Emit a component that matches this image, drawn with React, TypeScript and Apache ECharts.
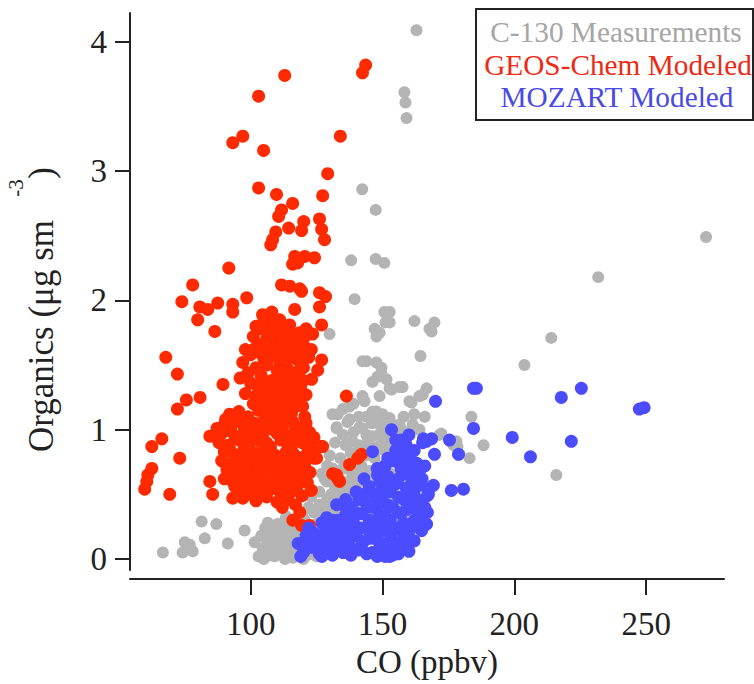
import React, { useEffect, useRef } from "react";
import * as echarts from "echarts";

const FONT = "'Liberation Serif', 'Times New Roman', serif";

const xTicks = [100, 150, 200, 250];
const yTicks = [0, 1, 2, 3, 4];

const seriesNames = ["C-130 Measurements", "GEOS-Chem Modeled", "MOZART Modeled"];

const measured: number[][] = [
  [162.9, 4.09], [158.3, 3.61], [158.7, 3.53], [159.1, 3.41], [272.7, 2.49], [231.8, 2.18],
  [142.3, 2.86], [147.4, 2.70], [138.1, 2.31], [147.4, 2.32], [150.7, 2.29], [150.7, 1.91],
  [151.1, 1.83], [148.9, 1.75], [162.1, 1.84], [167.8, 1.78], [169.7, 1.83], [214.0, 1.71],
  [139.4, 2.01], [129.9, 1.74], [147.0, 1.78], [147.7, 1.72], [143.9, 1.53], [147.7, 1.52],
  [149.6, 1.48], [148.1, 1.41], [151.5, 1.39], [142.4, 1.26], [148.9, 1.26], [137.5, 1.18],
  [133.0, 1.12], [137.5, 1.08], [146.2, 1.14], [144.0, 1.10], [132.6, 1.02], [141.3, 1.02],
  [107.2, 1.53], [106.0, 1.23], [101.5, 1.40],
  [152.7, 1.91], [152.7, 1.83], [168.6, 1.76], [164.4, 1.57], [153.4, 1.31], [157.6, 1.33],
  [165.2, 1.27], [166.7, 1.32], [164.0, 1.26], [161.0, 1.21], [183.7, 1.10], [156.4, 1.04],
  [161.4, 1.04], [152.7, 1.09],
  [203.8, 1.50], [215.9, 0.65], [188.3, 0.88], [183.0, 0.78], [171.6, 0.96], [178.0, 0.91],
  [179.2, 0.81], [149.6, 1.43], [152.7, 1.32], [156.4, 1.33], [160.2, 1.22], [148.9, 1.04],
  [152.7, 1.05], [156.4, 1.02], [147.7, 1.14], [150.4, 0.91], [172.3, 0.97], [168.6, 0.93],
  [176.9, 0.88], [157.2, 1.00], [157.6, 0.92], [152.7, 0.94], [178.4, 0.87],
  [66.7, 0.05], [75.0, 0.13], [74.2, 0.05], [78.0, 0.06], [76.9, 0.11], [81.4, 0.29],
  [87.0, 0.27], [82.6, 0.16], [91.3, 0.12], [97.7, 0.22], [101.5, 0.13],
  [131.0, 1.12], [136.7, 1.06], [132.6, 1.01], [138.6, 0.91], [142.4, 1.01], [143.9, 0.96],
  [131.0, 0.70], [134.8, 0.60], [128.8, 0.60], [131.0, 0.50], [126.1, 0.42], [137.5, 0.47],
  [142.4, 1.53], [146.2, 1.37], [143.2, 1.22], [147.7, 1.08],
  [104.5, 0.08], [106, 0.15], [107.5, 0.03], [108, 0.22], [109.5, 0.10], [110, 0.27],
  [111, 0.04], [112, 0.17], [113, 0.30], [114, 0.08], [115, 0.20], [116, 0.01],
  [116.5, 0.12], [117.5, 0.25], [118, 0.06], [119, 0.16], [120, 0.00], [120.5, 0.30],
  [121, 0.10], [122, 0.20], [123, 0.04], [124, 0.14], [125, 0.27], [126, 0.08],
  [127, 0.35], [128, 0.18], [129, 0.46], [130, 0.28], [131, 0.38], [132, 0.55],
  [133, 0.33], [134, 0.48], [135, 0.70], [136, 0.42], [137, 0.58], [138, 0.82],
  [139, 0.52], [140, 0.65], [141, 0.88], [142, 0.72], [143, 0.60], [144, 0.85],
  [145, 0.68], [146, 0.95], [147, 0.78], [148, 0.62], [149, 0.88], [150, 0.72],
  [151, 0.98], [152, 0.82], [153, 0.66], [154, 0.90], [155, 0.75], [156, 0.85],
  [124, 0.36], [126, 0.52], [128, 0.62], [130, 0.80], [132, 0.90], [134, 0.78],
  [136, 0.88], [139, 0.98], [141, 1.10], [135, 0.96], [129, 0.72], [127, 0.66],
  [122, 0.40], [123, 0.48], [103, 0.02], [105.5, 0.24], [113.5, 0.33], [119.5, 0.34],
  [104, 0.18], [105, 0.00], [106.5, 0.28], [107, 0.10], [108.5, 0.16], [109, 0.02],
  [110.5, 0.20], [111.5, 0.11], [112.5, 0.25], [113, 0.00], [114.5, 0.15], [115.5, 0.27],
  [117, 0.05], [118.5, 0.20], [119.5, 0.10], [121.5, 0.03], [122.5, 0.14], [123.5, 0.26],
  [125, 0.02], [126.5, 0.20], [127.5, 0.10], [128.5, 0.28], [129.5, 0.38], [130.5, 0.50],
  [132.5, 0.42], [133.5, 0.62], [135.5, 0.55], [136.5, 0.70], [138.5, 0.64], [139.5, 0.78],
  [140.5, 0.58], [141.5, 0.70], [143.5, 0.80], [144.5, 0.92], [146.5, 0.86], [148.5, 0.96],
  [150.5, 0.84], [152.5, 0.96], [154.5, 0.82], [146, 1.05], [150, 1.12], [158, 1.10],
  [162, 1.12], [166, 1.10], [160, 0.98], [164, 1.00], [139, 1.20], [135, 1.16],
];

const geosChem: number[][] = [
  [143.6, 3.82], [142.4, 3.76], [112.9, 3.74], [103.0, 3.58], [93.2, 3.22], [97.0, 3.27],
  [104.9, 3.16], [134.0, 3.27], [129.2, 2.98], [103.0, 2.87], [109.8, 2.82], [127.3, 2.81],
  [115.9, 2.75], [111.7, 2.70], [110.6, 2.65], [126.1, 2.63], [126.9, 2.55], [128.0, 2.47],
  [120.1, 2.61], [119.3, 2.54], [114.4, 2.56], [109.5, 2.53], [108.3, 2.47], [107.6, 2.43],
  [116.7, 2.34], [117.8, 2.29], [115.9, 2.28], [120.5, 2.34], [124.2, 2.33], [91.7, 2.25],
  [78.0, 2.12], [111.7, 2.12], [114.8, 2.11], [118.6, 2.09], [119.3, 2.07], [126.1, 2.06],
  [128.4, 2.03], [73.9, 1.99], [80.7, 1.95], [83.7, 1.93], [87.5, 1.98], [79.9, 1.85],
  [93.2, 1.97], [93.2, 1.91], [98.5, 2.02], [86.4, 1.76], [116.7, 1.93], [126.1, 1.95],
  [126.9, 1.81], [104.5, 1.89], [108.0, 1.91], [106.1, 1.81], [111.0, 1.85], [108.3, 1.75],
  [114.8, 1.81], [118.6, 1.75], [123.5, 1.74],
  [67.8, 1.56], [72.2, 1.43], [89.5, 1.35], [75.6, 1.23], [80.8, 1.25], [72.2, 1.16],
  [97.0, 1.08], [87.2, 1.01],
  [66.3, 0.93], [62.5, 0.87], [73.1, 0.78], [62.5, 0.70], [61.0, 0.65], [60.6, 0.60],
  [59.8, 0.54], [69.3, 0.50], [84.5, 0.95], [87.5, 0.93], [84.5, 0.60], [85.6, 0.50],
  [93.2, 0.47], [118.6, 0.36], [119.3, 0.26], [122.3, 0.26], [136.3, 1.26], [126.9, 0.87],
  [133.0, 0.62], [131.1, 0.66], [137.5, 0.73], [140.6, 0.78], [142.0, 0.81],
  [126.9, 1.54], [125.4, 1.46], [123.1, 1.39], [119.7, 1.18], [120.5, 1.10], [122.3, 0.98],
  [127.3, 0.87], [125.0, 0.78], [132.6, 0.65], [133.7, 0.60], [116.0, 0.30],
  [101, 1.72], [103, 1.66], [104, 1.78], [106, 1.70], [107, 1.62], [108, 1.69],
  [109, 1.58], [110, 1.77], [111, 1.64], [112, 1.71], [113, 1.60], [114, 1.68],
  [115, 1.75], [116, 1.62], [117, 1.55], [118, 1.66], [119, 1.58], [120, 1.70],
  [121, 1.63], [122, 1.56], [105, 1.55], [102, 1.48], [104, 1.42], [106, 1.50],
  [108, 1.38], [110, 1.46], [111, 1.52], [112, 1.40], [113, 1.33], [114, 1.47],
  [115, 1.36], [116, 1.44], [117, 1.30], [118, 1.41], [119, 1.34], [120, 1.48],
  [121, 1.27], [103, 1.30], [105, 1.24], [107, 1.33], [109, 1.22], [111, 1.28],
  [113, 1.20], [115, 1.25], [117, 1.18], [100, 1.36], [98, 1.28], [99, 1.44],
  [101, 1.20], [97, 1.52], [98, 1.62], [100, 1.58], [96, 1.40],
  [102, 1.80], [105, 1.86], [109, 1.84], [113, 1.78], [117, 1.72], [121, 1.78],
  [103, 1.60], [107, 1.56], [111, 1.60], [115, 1.56], [119, 1.50], [123, 1.62],
  [104, 1.36], [108, 1.30], [112, 1.34], [116, 1.30], [120, 1.38], [106, 1.18],
  [110, 1.16], [114, 1.14], [118, 1.24], [102, 1.26], [101, 1.62],
  [92, 1.12], [95.5, 1.14], [99, 1.10], [103, 1.15], [107.5, 1.12], [111, 1.09], [115.5, 1.13],
  [90, 1.04], [94, 1.06], [97.5, 1.02], [101.5, 1.05], [105, 1.07], [109.5, 1.03], [113.5, 1.06],
  [117.5, 1.02], [121, 1.05],
  [89, 0.97], [92.5, 0.99], [96.5, 0.95], [100.5, 0.98], [104.5, 0.96], [108.5, 1.00],
  [112.5, 0.95], [116.5, 0.98], [120.5, 0.94],
  [88, 0.90], [91.5, 0.88], [95.5, 0.92], [99.5, 0.89], [103.5, 0.91], [107.5, 0.87],
  [111.5, 0.92], [115.5, 0.88], [119.5, 0.90], [123.5, 0.86],
  [90, 0.83], [93.5, 0.81], [97.5, 0.85], [101.5, 0.82], [105.5, 0.84], [109.5, 0.80],
  [113.5, 0.83], [117.5, 0.79], [121.5, 0.82],
  [89, 0.76], [92.5, 0.74], [96.5, 0.78], [100.5, 0.75], [104.5, 0.73], [108.5, 0.77],
  [112.5, 0.74], [116.5, 0.76], [120.5, 0.72],
  [91, 0.69], [94.5, 0.67], [98.5, 0.70], [102.5, 0.66], [106.5, 0.69], [110.5, 0.65],
  [114.5, 0.68], [118.5, 0.64], [122.5, 0.67],
  [90, 0.62], [93.5, 0.59], [97.5, 0.61], [101.5, 0.58], [105.5, 0.62], [109.5, 0.57],
  [113.5, 0.60], [117.5, 0.56], [121.5, 0.59],
  [95.5, 0.53], [99.5, 0.55], [103.5, 0.51], [107.5, 0.54], [111.5, 0.50], [115.5, 0.52],
  [119.5, 0.49], [123, 0.53],
  [97, 0.47], [102, 0.45], [106, 0.48], [110, 0.44], [114, 0.46], [112, 0.40], [117, 0.42],
  [90.5, 1.08], [94, 0.95], [98, 0.92], [102, 0.94], [106, 0.90], [110, 0.97],
  [114, 0.90], [118, 0.92], [122, 0.90], [92, 0.85], [96, 0.81], [100, 0.79],
  [104, 0.80], [108, 0.82], [112, 0.78], [116, 0.82], [120, 0.78], [124, 0.78],
  [91, 0.72], [95, 0.72], [99, 0.73], [103, 0.70], [107, 0.72], [111, 0.70],
  [115, 0.72], [119, 0.68], [92, 0.65], [96, 0.64], [100, 0.62], [104, 0.64],
  [108, 0.60], [112, 0.64], [116, 0.60], [120, 0.62], [94, 0.56], [98, 0.58],
  [102, 0.54], [106, 0.57], [110, 0.54], [114, 0.55], [100, 0.50], [104, 1.02],
  [108, 1.06], [112, 1.02], [116, 1.06], [98, 1.06], [94, 1.10], [120, 1.00], [124, 0.94],
];

const mozart: number[][] = [
  [184.5, 1.32], [185.6, 1.32], [225.4, 1.32], [217.8, 1.25], [247.4, 1.16], [249.2, 1.17],
  [170.1, 1.22], [184.5, 1.01], [199.2, 0.94], [221.6, 0.91], [206.1, 0.79], [165.5, 0.93],
  [168.6, 0.93], [166.7, 0.91], [175.4, 0.92], [178.8, 0.81], [169.7, 0.81], [176.1, 0.53],
  [180.7, 0.54], [169.3, 0.57], [167.4, 0.50], [166.7, 0.27], [164.8, 0.22], [158.3, 0.14],
  [153.4, 1.00], [152.7, 0.02], [165.2, 0.90], [156.4, 0.83], [161.4, 0.83], [158.3, 0.75],
  [164.8, 0.57], [167.0, 0.49], [165.2, 0.29], [157.6, 0.14], [153.8, 0.03], [146.2, 0.83],
  [148.1, 0.65], [132.6, 0.42], [134.8, 0.42], [128.8, 0.32],
  [118, 0.12], [120, 0.05], [121, 0.18], [123, 0.09], [125, 0.15], [126, 0.04],
  [128, 0.20], [129, 0.10], [131, 0.03], [132, 0.16], [134, 0.08], [135, 0.22],
  [137, 0.12], [138, 0.03], [140, 0.18], [141, 0.07], [143, 0.14], [144, 0.24],
  [146, 0.05], [147, 0.16], [149, 0.10], [150, 0.27], [152, 0.08], [153, 0.19],
  [155, 0.12], [156, 0.04], [157, 0.22], [159, 0.09], [160, 0.18], [162, 0.30],
  [122, 0.24], [127, 0.28], [130, 0.25], [133, 0.30], [136, 0.34], [139, 0.28],
  [142, 0.35], [145, 0.30], [148, 0.38], [151, 0.33], [154, 0.40], [157, 0.35],
  [160, 0.42], [163, 0.38], [138, 0.40], [141, 0.46], [144, 0.42], [147, 0.50],
  [150, 0.45], [153, 0.52], [156, 0.48], [159, 0.55], [162, 0.50], [165, 0.45],
  [145, 0.56], [149, 0.60], [152, 0.64], [155, 0.58], [158, 0.66], [161, 0.62],
  [164, 0.68], [151, 0.72], [154, 0.76], [157, 0.70], [160, 0.78], [163, 0.74],
  [140, 0.52], [143, 0.62], [136, 0.46], [148, 0.70], [162, 0.84], [159, 0.88], [155, 0.92],
  [119, 0.02], [122, 0.10], [124, 0.20], [126, 0.12], [127, 0.02], [129, 0.18],
  [130, 0.08], [131, 0.30], [133, 0.12], [133, 0.22], [135, 0.05], [136, 0.16],
  [137, 0.26], [139, 0.08], [139, 0.20], [140, 0.36], [142, 0.10], [142, 0.24],
  [144, 0.04], [145, 0.16], [145, 0.40], [146, 0.26], [148, 0.02], [148, 0.20],
  [149, 0.32], [150, 0.12], [151, 0.02], [151, 0.22], [152, 0.42], [153, 0.30],
  [154, 0.14], [155, 0.24], [156, 0.36], [157, 0.08], [158, 0.28], [158, 0.46],
  [159, 0.38], [160, 0.06], [161, 0.24], [161, 0.52], [162, 0.14], [163, 0.58],
  [163, 0.44], [164, 0.32], [150, 0.55], [153, 0.60], [156, 0.62], [159, 0.70],
  [162, 0.64], [165, 0.62], [166, 0.72], [158, 0.80], [161, 0.72], [155, 0.84],
  [157, 0.92], [160, 0.96], [150, 0.50], [147, 0.44], [143, 0.50], [152, 0.78],
  [166, 0.40], [167, 0.36],
];

const seriesColors = ["#b4b4b4", "#ff2a00", "#4c4cff"];
const legendColors = ["#a6a6a6", "#ee2a14", "#4a4ae6"];

export default function App() {
  const ref = useRef<HTMLDivElement>(null);
  useEffect(() => {
    document.body.style.margin = "0";
    if (!ref.current) return;
    const chart = echarts.init(ref.current, null, { renderer: "svg" });
    const axisColor = "#222";
    chart.setOption({
      animation: false,
      backgroundColor: "#ffffff",
      grid: { left: 130, right: 30, top: 13, bottom: 114 },
      xAxis: {
        type: "value",
        min: 54.23,
        max: 279.5,
        offset: 9,
        splitLine: { show: false },
        axisLine: { show: true, onZero: false, lineStyle: { color: axisColor, width: 2 } },
        axisTick: { show: true, length: 16, inside: false, customValues: xTicks, lineStyle: { color: axisColor, width: 2 } },
        axisLabel: { customValues: xTicks, fontFamily: FONT, fontSize: 33, color: axisColor, margin: 28 },
        name: "CO (ppbv)",
        nameLocation: "middle",
        nameGap: 66,
        nameTextStyle: { fontFamily: FONT, fontSize: 33, color: axisColor },
      },
      yAxis: {
        type: "value",
        min: -0.085,
        max: 4.223,
        splitLine: { show: false },
        axisLine: { show: true, onZero: false, lineStyle: { color: axisColor, width: 2 } },
        axisTick: { show: true, length: 15, inside: false, customValues: yTicks, lineStyle: { color: axisColor, width: 2 } },
        axisLabel: { customValues: yTicks, fontFamily: FONT, fontSize: 33, color: axisColor, margin: 23 },
      },
      series: [
        { name: seriesNames[0], type: "scatter", data: measured, symbolSize: 12, itemStyle: { color: seriesColors[0], opacity: 1 }, z: 1 },
        { name: seriesNames[1], type: "scatter", data: geosChem, symbolSize: 13, itemStyle: { color: seriesColors[1], opacity: 1 }, z: 2 },
        { name: seriesNames[2], type: "scatter", data: mozart, symbolSize: 13, itemStyle: { color: seriesColors[2], opacity: 1 }, z: 3 },
      ],
      graphic: [
        {
          type: "text",
          x: 41,
          y: 452,
          rotation: Math.PI / 2,
          style: { text: "Organics (μg sm", fontFamily: FONT, fontSize: 35, fill: axisColor, align: "left", verticalAlign: "middle" },
        },
        {
          type: "text",
          x: 16,
          y: 188,
          rotation: Math.PI / 2,
          style: { text: "-3", fontFamily: FONT, fontSize: 21, fill: axisColor, align: "center", verticalAlign: "middle" },
        },
        {
          type: "text",
          x: 41,
          y: 167,
          rotation: Math.PI / 2,
          style: { text: ")", fontFamily: FONT, fontSize: 35, fill: axisColor, align: "right", verticalAlign: "middle" },
        },
        {
          type: "group",
          z: 100,
          children: [
            { type: "rect", shape: { x: 476, y: 9, width: 277, height: 111 }, style: { fill: "#ffffff", stroke: "#222", lineWidth: 2 } },
            { type: "text", x: 616, y: 32, style: { text: seriesNames[0], fill: legendColors[0], fontFamily: FONT, fontSize: 29.3, align: "center", verticalAlign: "middle" } },
            { type: "text", x: 618, y: 64.5, style: { text: seriesNames[1], fill: legendColors[1], fontFamily: FONT, fontSize: 29.3, align: "center", verticalAlign: "middle" } },
            { type: "text", x: 617, y: 97, style: { text: seriesNames[2], fill: legendColors[2], fontFamily: FONT, fontSize: 29.3, align: "center", verticalAlign: "middle" } },
          ],
        },
      ],
    });
    return () => chart.dispose();
  }, []);
  return <div ref={ref} style={{ width: 754, height: 684 }} />;
}
